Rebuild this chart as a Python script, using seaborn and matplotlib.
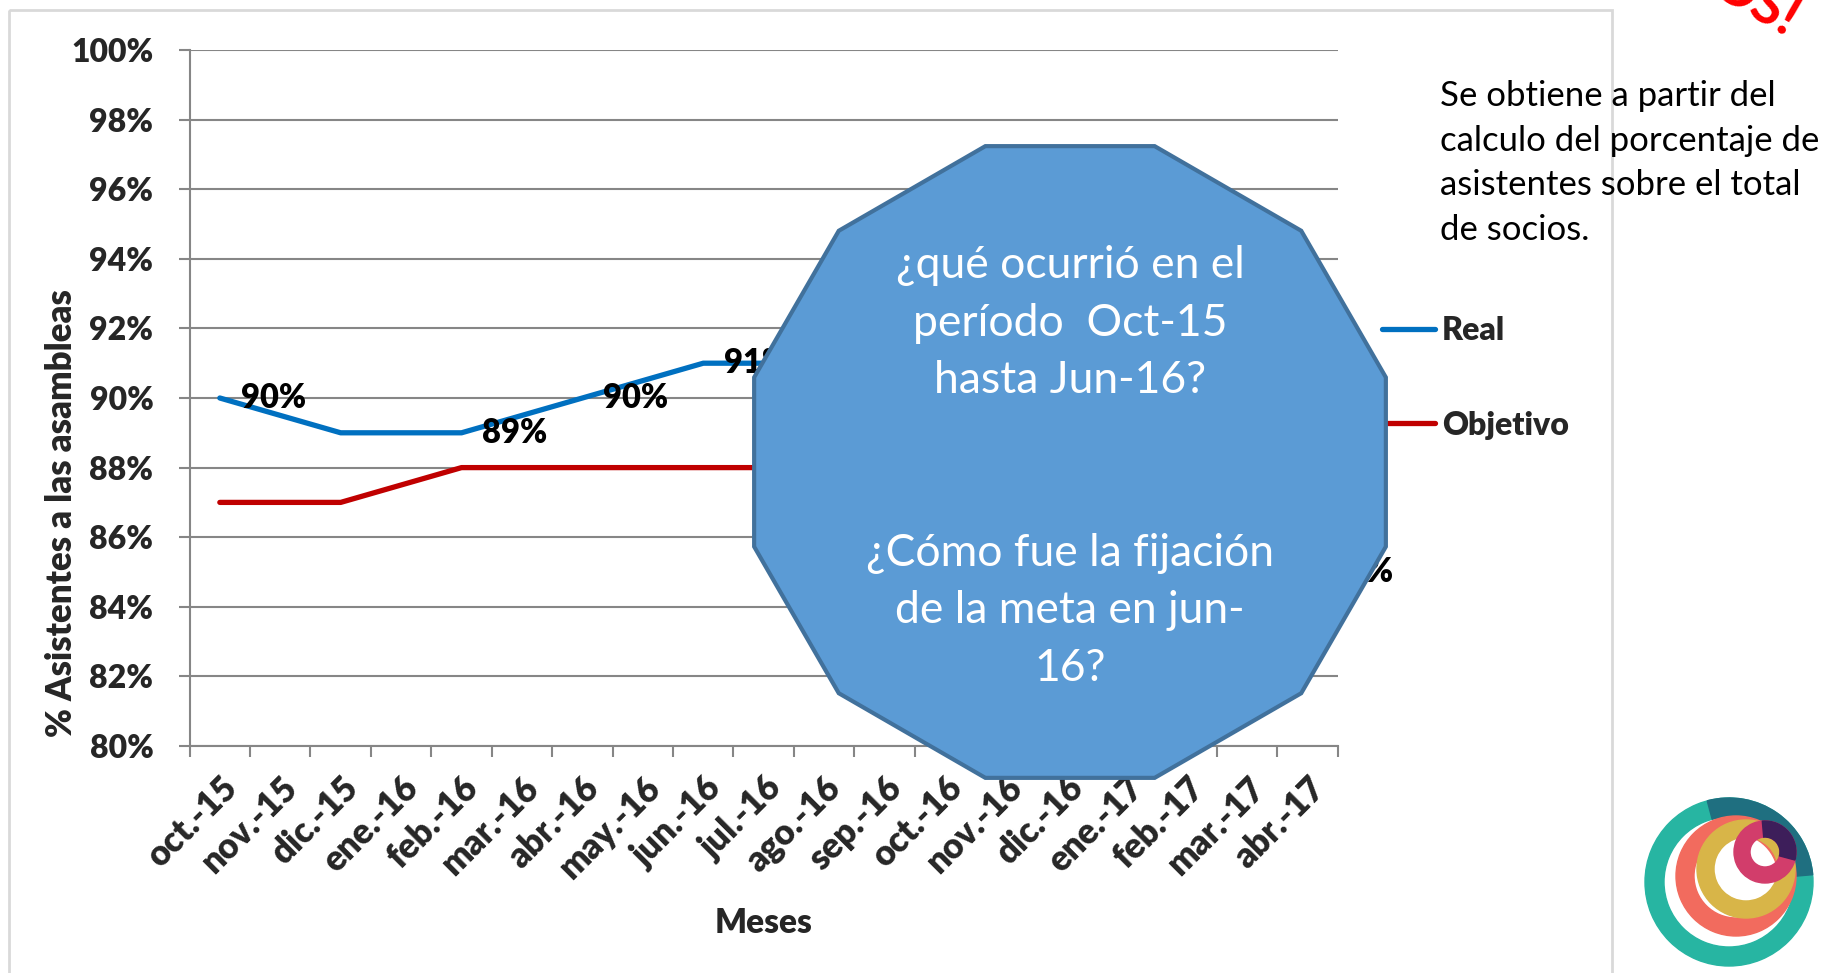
import numpy as np
import pandas as pd
import matplotlib
matplotlib.use("Agg")
import matplotlib.pyplot as plt
import seaborn as sns
from matplotlib.patches import RegularPolygon, Rectangle, Wedge
from matplotlib.lines import Line2D

# ---------------- data ----------------
months = ['oct.-15', 'nov.-15', 'dic.-15', 'ene.-16', 'feb.-16', 'mar.-16', 'abr.-16',
          'may.-16', 'jun.-16', 'jul.-16', 'ago.-16', 'sep.-16', 'oct.-16', 'nov.-16',
          'dic.-16', 'ene.-17', 'feb.-17', 'mar.-17', 'abr.-17']
real = [90, None, 89, None, 89, None, 90, None, 91, None, 91, None, 89, None, 87, None, 86, None, 85]
objetivo = [87, None, 87, None, 88, None, 88, None, 88, None, 88, None, 88, None, 88, None, 88, None, 88]
real_labels = ['90%', None, None, None, '89%', None, '90%', None, '91%', None,
               None, None, None, None, None, None, None, None, '85%']
y_ticks = [80, 82, 84, 86, 88, 90, 92, 94, 96, 98, 100]
series_names = ['Real', 'Objetivo']
series_colors = {'Real': '#0070C0', 'Objetivo': '#C00000'}

bubble_text = ("¿qué ocurrió en el\nperíodo  Oct-15\nhasta Jun-16?\n\n\n"
               "¿Cómo fue la fijación\nde la meta en jun-\n16?")
note_text = "Se obtiene a partir del\ncalculo del porcentaje de\nasistentes sobre el total\nde socios."

# ---------------- style ----------------
sns.set_style("white")
plt.rcParams['font.family'] = ['Lato', 'DejaVu Sans']
BOLD = 'heavy'

W, H = 1824, 973
fig = plt.figure(figsize=(W / 100, H / 100), dpi=100)

ax_l, ax_r, ax_t, ax_b = 189.6, 1337.8, 50.0, 746.0
ax = fig.add_axes([ax_l / W, 1 - ax_b / H, (ax_r - ax_l) / W, (ax_b - ax_t) / H])

df = pd.DataFrame({'idx': np.arange(len(months)), 'mes': months,
                   'Real': real, 'Objetivo': objetivo})
long = df.melt(id_vars=['idx', 'mes'], value_vars=series_names,
               var_name='serie', value_name='valor').dropna()
long['valor'] = long['valor'].astype(float)

sns.lineplot(data=long, x='idx', y='valor', hue='serie', hue_order=series_names,
             palette=series_colors, linewidth=3.8, estimator=None, sort=True,
             legend=False, ax=ax, zorder=3)

# data labels
for i, (v, lab) in enumerate(zip(real, real_labels)):
    if lab is not None and v is not None:
        ax.annotate(lab, xy=(i, v), xytext=(15, 0), textcoords='offset points',
                    ha='left', va='center', fontsize=23.5, fontweight=BOLD,
                    color='black', zorder=4)

# axes
ax.set_xlim(-0.5, len(months) - 0.5)
ax.set_ylim(y_ticks[0], y_ticks[-1])
ax.set_yticks(y_ticks)
ax.set_yticklabels([f"{v}%" for v in y_ticks], fontsize=23, fontweight=BOLD)
ax.set_xticks(np.arange(-0.5, len(months), 1.0))
ax.set_xticklabels([])
ax.set_xticks(np.arange(len(months)), minor=True)
ax.set_xticklabels(months, minor=True, rotation=45, ha='right', va='top',
                   rotation_mode='anchor', fontsize=25, fontweight=BOLD)
ax.tick_params(axis='x', which='major', length=8, width=1.5, color='#868686',
               direction='out', bottom=True)
ax.tick_params(axis='x', which='minor', length=0, pad=18, bottom=True)
ax.tick_params(axis='y', which='major', length=8, width=1.5, color='#868686',
               direction='out', pad=18, left=True)
ax.grid(axis='y', color='#868686', linewidth=1.5, zorder=0)
ax.grid(axis='x', visible=False)
for s in ['top', 'right']:
    ax.spines[s].set_visible(False)
for s in ['left', 'bottom']:
    ax.spines[s].set_color('#868686')
    ax.spines[s].set_linewidth(1.5)

ax.set_xlabel('Meses', fontsize=24, fontweight=BOLD)
ax.xaxis.set_label_coords(0.5, -0.232)
ax.set_ylabel('% Asistentes a las asambleas', fontsize=25, fontweight=BOLD)
ax.yaxis.set_label_coords(-0.097, 0.335)

handles = [Line2D([0], [0], color=series_colors[n], lw=3.8) for n in series_names]
ax.legend(handles, series_names, loc='center left', bbox_to_anchor=(1.0385, 0.529),
          frameon=False, borderpad=0, borderaxespad=0, handlelength=1.67,
          handletextpad=0.2, labelspacing=2.05,
          prop={'weight': BOLD, 'size': 23})

# ---------------- overlay (shapes & annotations) ----------------
ov = fig.add_axes([0, 0, 1, 1])
ov.set_xlim(0, W)
ov.set_ylim(H, 0)
ov.axis('off')

ov.add_patch(Rectangle((9, 10), 1603, 1000, fill=False, edgecolor='#D9D9D9', lw=2))

ov.add_patch(RegularPolygon((1070, 462), numVertices=12, radius=327,
                            orientation=np.pi / 12, facecolor='#5B9BD5',
                            edgecolor='#41719C', lw=3, zorder=5))
ov.text(1070, 467, bubble_text, ha='center', va='center', multialignment='center',
        color='white', fontsize=32, linespacing=1.5, zorder=6)

ov.text(1440, 80, note_text, ha='left', va='top', fontsize=25, color='black',
        linespacing=1.49, zorder=6)

ov.text(1755, 2, 'OS!', ha='center', va='center', rotation=-30, fontsize=40,
        fontweight='bold', color='#FF0000', zorder=6)

# logo
ov.add_patch(Wedge((1729, 882), 84, 0, 360, width=19, color='#27B5A2', zorder=6))
ov.add_patch(Wedge((1729, 882), 84, -105, -5, width=19, color='#1F6F80', zorder=6))
ov.add_patch(Wedge((1736, 876), 60, 0, 360, width=18, color='#F26B5E', zorder=6))
ov.add_patch(Wedge((1746, 869), 49, 0, 360, width=17, color='#D8B548', zorder=6))
ov.add_patch(Wedge((1765, 852), 31, 0, 360, width=16, color='#D23D6B', zorder=6))
ov.add_patch(Wedge((1765, 852), 31, -95, 15, width=16, color='#3D1E5A', zorder=6))

fig.savefig('out.png', dpi=100)
